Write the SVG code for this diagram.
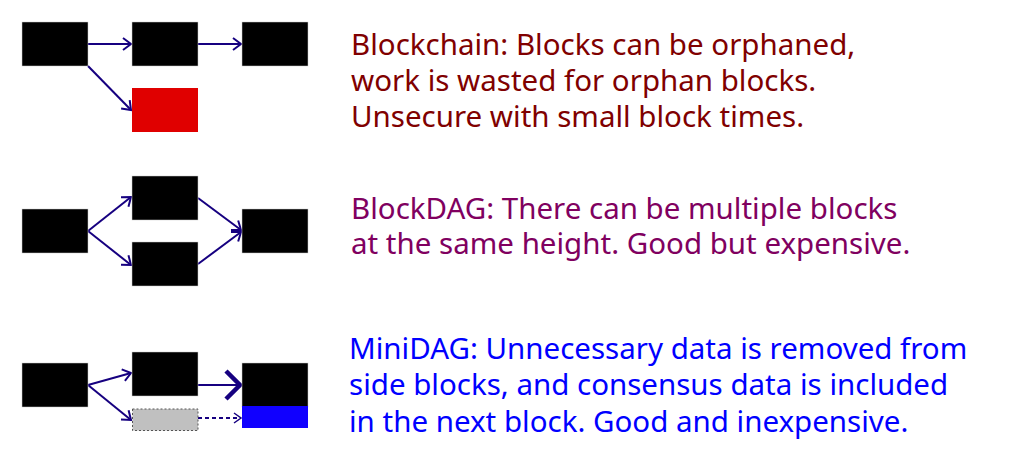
<svg xmlns="http://www.w3.org/2000/svg" width="1024" height="461" viewBox="0 0 1024 461">
<style>
.blk{fill:#000;stroke:#ccc;stroke-width:0.5}
.c{fill:none;stroke:#160080;stroke-width:2}
.t{font-family:"Noto Sans","Open Sans",sans-serif;font-size:29.5px}
</style>
<defs>
<marker id="a" markerUnits="userSpaceOnUse" markerWidth="20" markerHeight="20" viewBox="-10 -10 20 20" refX="0" refY="0" orient="auto" overflow="visible">
<path d="M-8,-6 L0,0 L-8,6" fill="none" stroke="#160080" stroke-width="2"/>
</marker>
<marker id="ad" markerUnits="userSpaceOnUse" markerWidth="20" markerHeight="20" viewBox="-10 -10 20 20" refX="0" refY="0" orient="auto" overflow="visible">
<path d="M-7,-5 L0,0 L-7,5" fill="none" stroke="#160080" stroke-width="1.5"/>
</marker>
</defs>
<rect width="1024" height="461" fill="#fff"/>
<g id="connectors">
<line class="c" x1="88" y1="44" x2="131" y2="44" marker-end="url(#a)"/>
<line class="c" x1="198" y1="44" x2="241" y2="44" marker-end="url(#a)"/>
<line class="c" x1="88" y1="66" x2="131" y2="110" marker-end="url(#a)"/>
<line class="c" x1="88" y1="231" x2="131" y2="197" marker-end="url(#a)"/>
<line class="c" x1="88" y1="231" x2="131" y2="265" marker-end="url(#a)"/>
<line class="c" x1="198" y1="198" x2="241" y2="230" marker-end="url(#a)"/>
<line class="c" x1="198" y1="264" x2="241" y2="232" marker-end="url(#a)"/>
<line class="c" x1="88" y1="385" x2="131" y2="373" marker-end="url(#a)"/>
<line class="c" x1="88" y1="385" x2="131" y2="420" marker-end="url(#a)"/>
<line class="c" x1="198" y1="385" x2="239" y2="385" stroke-width="4.5"/>
<path d="M226,371 L240,385 L226,399" fill="none" stroke="#160080" stroke-width="4.5"/>
<line class="c" x1="198" y1="418" x2="241" y2="418" stroke-width="1.5" stroke-dasharray="4,3" marker-end="url(#ad)"/>
</g>
<g id="chain">
<g id="c1"><rect class="blk" x="22" y="22" width="66" height="44"/></g>
<g id="c2"><rect class="blk" x="132" y="22" width="66" height="44"/></g>
<g id="c3"><rect class="blk" x="242" y="22" width="66" height="44"/></g>
<g id="c4"><rect x="132" y="88" width="66" height="44" fill="#e00000"/></g>
</g>
<g id="dag">
<g id="d1"><rect class="blk" x="22" y="209" width="66" height="44"/></g>
<g id="d2"><rect class="blk" x="132" y="176" width="66" height="44"/></g>
<g id="d3"><rect class="blk" x="132" y="242" width="66" height="44"/></g>
<g id="d4"><rect class="blk" x="242" y="209" width="66" height="44"/></g>
</g>
<g id="mini">
<g id="m1"><rect class="blk" x="22" y="363" width="66" height="44"/></g>
<g id="m2"><rect class="blk" x="132" y="352" width="66" height="44"/></g>
<g id="m3"><rect x="132.5" y="409" width="65.5" height="21.5" fill="#c0c0c0" stroke="#555" stroke-width="1" stroke-dasharray="2,2"/></g>
<g id="m4"><rect class="blk" x="242" y="363" width="66" height="44"/><rect x="242" y="406" width="66" height="22" fill="#1000ff"/></g>
</g>
<g id="texts">
<text class="t" fill="#800000" x="351"><tspan x="351" y="54.5">Blockchain: Blocks can be orphaned,</tspan><tspan x="351" y="90.5">work is wasted for orphan blocks.</tspan><tspan x="351" y="126.5">Unsecure with small block times.</tspan></text>
<text class="t" fill="#800060" x="351"><tspan x="351" y="218.5">BlockDAG: There can be multiple blocks</tspan><tspan x="351" y="254">at the same height. Good but expensive.</tspan></text>
<text class="t" fill="#0000ff" x="349"><tspan x="349" y="358.5">MiniDAG: Unnecessary data is removed from</tspan><tspan x="349" y="395">side blocks, and consensus data is included</tspan><tspan x="349" y="431.5">in the next block. Good and inexpensive.</tspan></text>
</g>
</svg>
